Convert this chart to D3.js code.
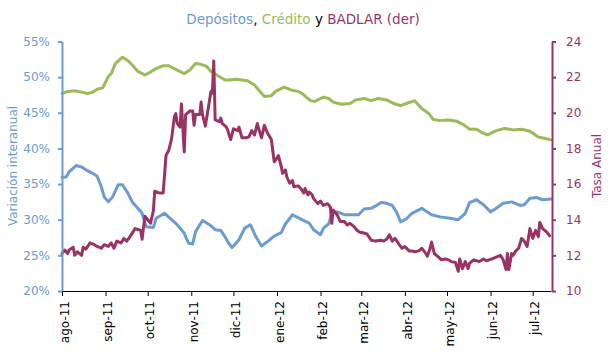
<!DOCTYPE html>
<html><head><meta charset="utf-8">
<script src="https://cdn.jsdelivr.net/npm/d3@7"></script>
<style>
body{margin:0;background:#fff;}
svg{display:block;font-family:"DejaVu Sans",Verdana,sans-serif;}
</style></head>
<body><svg id="c" width="609" height="360"></svg>
<script>
// ---- data ----
const startDate = new Date(2011, 7, 1);
const endDate = new Date(2012, 6, 14);
const monthLabels = ["ago-11","sep-11","oct-11","nov-11","dic-11","ene-12","feb-12","mar-12","abr-12","may-12","jun-12","jul-12"];
const leftTicks = [20,25,30,35,40,45,50,55];
const rightTicks = [10,12,14,16,18,20,22,24];

// days since 1-ago-2011
const credDays = [0,4,9,14,18,22,25,29,33,35,38,43,47,50,54,59,62,67,72,76,81,87,91,95,99,103,106,111,116,118,124,132,137,140,144,149,152,158,163,168,171,175,177,180,186,190,193,199,205,209,215,220,225,231,236,241,245,251,256,261,264,269,275,281,286,290,295,299,303,309,315,321,327,333,339,344,348];
const credito = [47.7,48.0,48.1,47.9,47.7,47.9,48.3,48.5,50.1,50.5,51.9,52.8,52.3,51.7,50.8,50.3,50.6,51.2,51.6,51.6,51.1,50.5,51.0,51.9,51.8,51.5,50.8,50.2,49.6,49.6,49.7,49.5,48.9,48.2,47.3,47.4,48.0,48.6,48.2,48.0,47.7,47.0,46.7,46.6,47.2,47.0,46.5,46.2,46.3,46.8,47.0,46.7,47.0,46.8,46.3,46.0,46.3,46.7,45.6,44.9,44.1,43.9,44.0,43.8,43.3,42.7,42.7,42.2,41.9,42.5,42.8,42.6,42.7,42.4,41.6,41.4,41.2];

const depDays = [0,3,5,10,14,17,22,25,28,30,33,36,40,43,47,50,54,57,60,65,67,73,78,82,87,90,93,95,100,105,109,113,116,118,121,126,130,134,138,142,146,151,156,159,164,169,174,176,179,184,186,190,192,196,201,211,215,220,223,227,231,235,238,241,245,249,256,263,269,276,282,287,290,295,300,305,309,314,320,326,329,333,338,342,348];
const depositos = [35.95,36.0,36.7,37.6,37.4,37.0,36.5,36.1,34.6,33.2,32.5,33.2,34.9,34.9,33.7,32.5,31.6,30.9,29.0,28.9,30.2,30.9,30.0,29.3,28.1,26.7,26.6,28.3,29.9,29.3,28.6,28.5,27.6,26.9,26.1,27.2,28.8,29.3,27.6,26.3,26.9,27.7,28.2,29.4,30.7,30.2,29.7,29.5,28.6,27.9,28.8,29.5,30.9,31.1,30.7,30.7,31.5,31.6,31.9,32.4,32.3,32.0,31.1,29.7,30.1,30.9,31.6,30.7,30.4,30.2,30.0,30.9,32.4,32.8,32.1,31.1,31.6,32.3,32.5,32.0,32.1,33.0,33.1,32.8,32.9];

const badDays = [0,2,4,5,8,9,11,14,15,17,20,23,25,28,30,33,35,37,39,42,44,46,48,50,52,54,56,57,59,61,63,65,66,69,72,74,76,78,80,81,82,84,85,87,88,91,93,94,95,98,99,100,102,105,106,107,108,109,112,113,114,117,118,120,122,125,126,128,131,133,135,137,139,140,142,144,146,149,151,152,154,156,157,159,160,162,164,165,168,170,172,173,175,176,178,179,182,184,186,189,191,192,193,196,198,201,203,205,208,210,212,215,217,220,223,227,229,231,233,235,237,240,242,244,247,249,251,254,256,259,260,262,263,265,268,270,273,275,277,280,282,283,285,287,289,290,293,297,300,302,306,309,312,314,316,317,318,320,321,323,325,327,329,331,333,335,337,339,340,342,345,347];
const badlar = [12.1,12.3,12.1,12.3,12.45,12.0,12.2,12.0,12.45,12.35,12.7,12.6,12.5,12.4,12.6,12.5,12.7,12.4,12.8,12.7,12.95,12.8,13.0,13.25,13.5,13.45,13.4,12.9,14.2,14.0,13.8,14.5,15.6,15.5,15.5,17.6,17.9,18.55,19.8,19.95,19.4,19.2,20.5,17.8,19.9,20.1,20.1,19.3,19.9,19.9,20.6,19.9,19.25,20.7,21.2,21.1,22.9,19.6,19.5,19.7,19.4,19.2,19.0,18.5,19.1,19.0,19.2,18.6,18.6,18.65,19.0,18.75,19.4,19.1,18.6,19.3,18.9,18.5,17.25,17.35,17.6,17.0,16.6,16.8,16.4,16.05,16.2,15.85,15.9,15.75,15.5,15.75,15.4,15.55,15.4,15.2,14.9,15.05,14.8,14.9,14.7,13.8,14.55,14.25,13.9,13.9,13.7,13.8,13.6,13.4,13.3,13.25,13.2,12.85,12.8,12.85,12.8,12.9,13.15,12.8,12.95,12.6,12.4,12.5,12.25,12.25,12.2,12.25,12.4,12.1,11.95,12.4,12.75,12.1,11.9,11.75,11.8,11.75,11.65,11.6,11.1,11.8,11.25,11.65,11.25,11.55,11.75,11.65,11.8,11.7,11.8,11.9,12.0,11.75,11.2,12.1,11.2,12.1,12.0,12.25,12.4,12.95,12.8,12.5,13.5,12.95,13.4,13.05,13.85,13.5,13.3,13.1];

// ---- styles ----
const cDep = "#6A9BD1", cCred = "#9BBB59", cBad = "#993366";

const svg = d3.select("#c");
const x = d3.scaleTime().domain([startDate, endDate]).range([62, 551]);
const yL = d3.scaleLinear().domain([20, 55]).range([291, 41.5]);
const yR = d3.scaleLinear().domain([10, 24]).range([291, 41.5]);
const day = d => d3.timeDay.offset(startDate, d);

function series(days, vals, yScale, color, w) {
  const pts = days.map((d, i) => [day(d), vals[i]]);
  svg.append("path").datum(pts)
    .attr("fill", "none").attr("stroke", color).attr("stroke-width", w)
    .attr("stroke-linejoin", "round").attr("stroke-linecap", "round")
    .attr("d", d3.line().x(p => x(p[0])).y(p => yScale(p[1])));
}
series(credDays, credito, yL, cCred, 3);
series(depDays, depositos, yL, cDep, 3);
series(badDays, badlar, yR, cBad, 3);

// x axis
const months = d3.timeMonth.range(startDate, endDate);
const xAxis = svg.append("g").attr("transform", "translate(0,291)")
  .call(d3.axisBottom(x).tickValues(months).tickSize(5).tickSizeOuter(0)
    .tickFormat((d, i) => monthLabels[i]));
xAxis.select(".domain").attr("stroke", "#000");
xAxis.selectAll(".tick line").attr("stroke", "#000");
xAxis.selectAll(".tick text")
  .attr("font-size", 12).attr("font-family", "DejaVu Sans").attr("fill", "#000")
  .attr("text-anchor", "end")
  .attr("transform", "rotate(-90)")
  .attr("x", -10).attr("y", 2).attr("dy", "0.35em");

// left axis
const lAxis = svg.append("g").attr("transform", "translate(62,0)")
  .call(d3.axisLeft(yL).tickValues(leftTicks).tickSize(4).tickSizeOuter(0).tickPadding(8)
    .tickFormat(d => d + "%"));
lAxis.select(".domain").attr("stroke", cDep).attr("stroke-width", 2);
lAxis.selectAll(".tick line").attr("stroke", cDep).attr("stroke-width", 2);
lAxis.selectAll(".tick text").attr("fill", cDep).attr("font-size", 12).attr("font-family", "DejaVu Sans");

// right axis
const rAxis = svg.append("g").attr("transform", "translate(552,0)")
  .call(d3.axisRight(yR).tickValues(rightTicks).tickSize(4).tickSizeOuter(0).tickPadding(10));
rAxis.select(".domain").attr("stroke", cBad).attr("stroke-width", 2);
rAxis.selectAll(".tick line").attr("stroke", cBad).attr("stroke-width", 2);
rAxis.selectAll(".tick text").attr("fill", cBad).attr("font-size", 12).attr("font-family", "DejaVu Sans");

// axis titles
svg.append("text").attr("transform", "translate(17,166) rotate(-90)")
  .attr("text-anchor", "middle").attr("font-size", 12).attr("fill", cDep)
  .text("Variación interanual");
svg.append("text").attr("transform", "translate(601,166) rotate(-90)")
  .attr("text-anchor", "middle").attr("font-size", 12).attr("fill", cBad)
  .text("Tasa Anual");

// title
const t = svg.append("text").attr("x", 303).attr("y", 24).attr("text-anchor", "middle")
  .attr("font-size", 13.5);
t.append("tspan").attr("fill", cDep).text("Depósitos");
t.append("tspan").attr("fill", "#000").text(", ");
t.append("tspan").attr("fill", cCred).text("Crédito");
t.append("tspan").attr("fill", "#000").text(" y ");
t.append("tspan").attr("fill", cBad).text("BADLAR (der)");
</script>
</body></html>
